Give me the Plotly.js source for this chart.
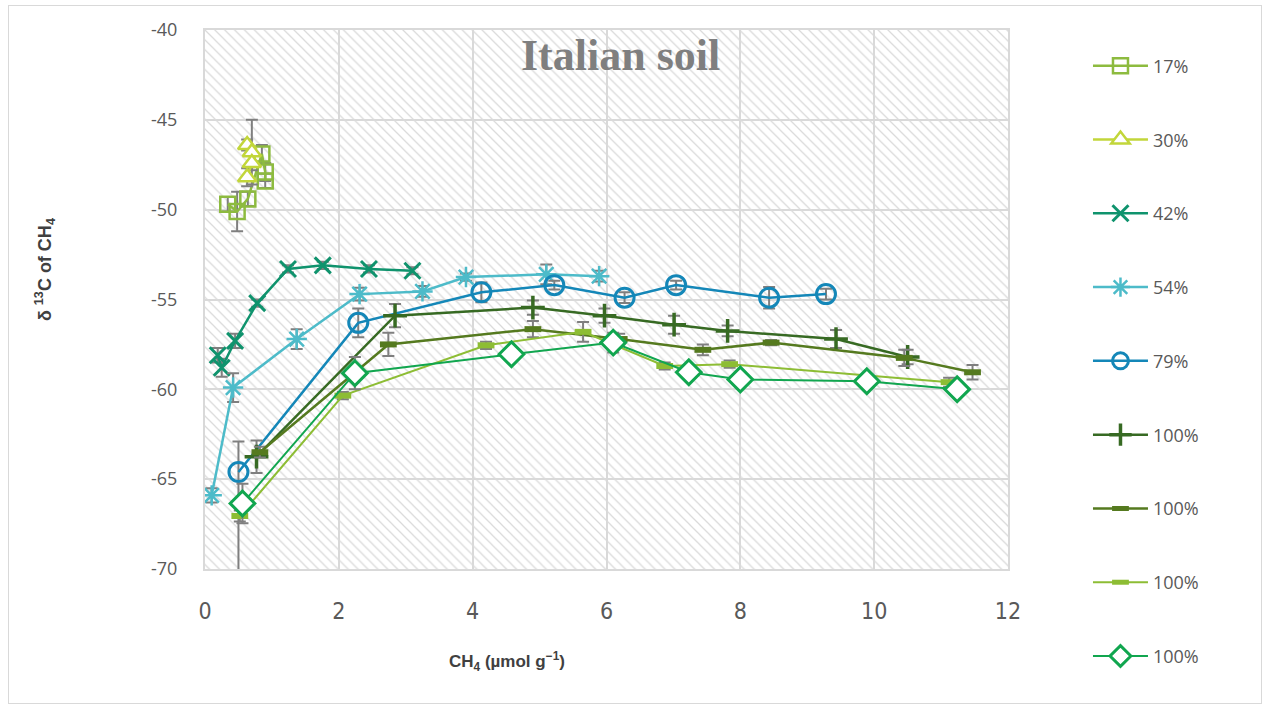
<!DOCTYPE html>
<html>
<head>
<meta charset="utf-8">
<script src="https://cdn.plot.ly/plotly-3.0.1.min.js"></script>
<style>
  html, body { margin: 0; padding: 0; background: #ffffff; }
  #frame { position: absolute; left: 8px; top: 5px; width: 1254px; height: 699px;
           border: 1px solid #d9d9d9; box-sizing: border-box; pointer-events: none; }
  #chart { position: absolute; left: 8px; top: 5px; width: 1254px; height: 699px; }
</style>
</head>
<body>
<div id="chart"></div>
<div id="frame"></div>
<script>
// Series labels (water-filled pore space) and measurements: CH4 amount vs δ13C of CH4
const seriesNames = ['17%', '30%', '42%', '54%', '79%', '100%', '100%', '100%', '100%'];

const x17 = [0.34, 0.48, 0.64, 0.85, 0.90, 0.90];
const y17 = [-49.7, -50.1, -49.4, -46.9, -47.9, -48.4];
const e17 = [0.4, 1.1, 0.4, 0.5, 0.5, 0.4];

const x30 = [0.63, 0.70, 0.70, 0.63];
const y30 = [-46.4, -46.8, -47.4, -48.2];
const e30 = [0.3, 1.8, 0.4, 0.5];

const x42 = [0.19, 0.25, 0.45, 0.78, 1.24, 1.76, 2.45, 3.10];
const y42 = [-58.1, -58.8, -57.3, -55.2, -53.3, -53.1, -53.3, -53.4];
const e42 = [0.4, 0.5, 0.4, 0.2, 0.2, 0.2, 0.2, 0.2];

const x54 = [0.10, 0.42, 1.37, 2.31, 3.25, 3.90, 5.10, 5.89];
const y54 = [-65.9, -59.9, -57.2, -54.7, -54.55, -53.75, -53.6, -53.7];
const e54 = [0.4, 0.8, 0.55, 0.35, 0.3, 0.2, 0.55, 0.3];

const x79 = [0.50, 2.29, 4.13, 5.22, 6.27, 7.04, 8.43, 9.28];
const y79 = [-64.6, -56.3, -54.6, -54.2, -54.9, -54.2, -54.9, -54.7];
const e79up = [1.7, 0.8, 0.55, 0.25, 0.3, 0.25, 0.6, 0.3];
const e79down = [6.0, 0.8, 0.55, 0.25, 0.3, 0.25, 0.6, 0.3];

const xA = [0.77, 2.84, 4.90, 5.97, 7.01, 7.81, 9.43, 10.50];
const yA = [-63.75, -55.9, -55.45, -55.9, -56.4, -56.75, -57.2, -58.2];
const eA = [0.9, 0.65, 0.4, 0.4, 0.5, 0.3, 0.5, 0.4];

const xB = [0.82, 2.74, 4.90, 6.19, 7.44, 8.46, 10.45, 11.47];
const yB = [-63.5, -57.5, -56.65, -57.2, -57.8, -57.4, -58.25, -59.05];
const eB = [0.3, 0.65, 0.45, 0.3, 0.3, 0.15, 0.45, 0.4];

const xC = [0.52, 2.06, 4.20, 5.65, 6.87, 7.84, 11.12];
const yC = [-67.05, -60.35, -57.55, -56.8, -58.7, -58.6, -59.6];
const eC = [0.3, 0.2, 0.2, 0.55, 0.2, 0.2, 0.25];

const xD = [0.56, 2.24, 4.58, 6.10, 7.23, 8.00, 9.89, 11.24];
const yD = [-66.35, -59.1, -58.05, -57.4, -59.05, -59.45, -59.55, -60.0];
const eD = [1.1, 0.9, 0.2, 0.55, 0.2, 0.2, 0.2, 0.2];

const xTicks = [0, 2, 4, 6, 8, 10, 12];
const yTicks = [-70, -65, -60, -55, -50, -45, -40];

const xRange = [0, 12];
const yRange = [-70, -40];

const errColor = '#7f7f7f';
function errBars(arr, arrMinus) {
  const e = { type: 'data', array: arr, color: errColor, thickness: 2, width: 6, visible: true };
  if (arrMinus) { e.symmetric = false; e.arrayminus = arrMinus; }
  return e;
}

// Hatched plot background (only the stripes, so gridlines stay visible)
const hatch = {
  x: [xRange[0], xRange[1], xRange[1], xRange[0], xRange[0]],
  y: [yRange[0], yRange[0], yRange[1], yRange[1], yRange[0]],
  mode: 'none', fill: 'toself', fillcolor: 'rgba(0,0,0,0)',
  fillpattern: { shape: '\\', fgcolor: '#dadada', bgcolor: 'rgba(0,0,0,0)', size: 7, solidity: 0.18 },
  showlegend: false, hoverinfo: 'skip'
};

// each series gets its own legend box so the column can span the full height
const legendIds = ['legend', 'legend2', 'legend3', 'legend4', 'legend5', 'legend6', 'legend7', 'legend8', 'legend9'];

function series(i, xs, ys, err, color, lineWidth, marker) {
  return {
    x: xs, y: ys, name: seriesNames[i], type: 'scatter', mode: 'lines+markers',
    line: { color: color, width: lineWidth },
    marker: marker,
    error_y: err,
    legend: legendIds[i]
  };
}

const traces = [
  hatch,
  series(0, x17, y17, errBars(e17), '#8dbb3f', 2.5,
    { symbol: 'square-open', size: 15, color: '#8dbb3f', line: { color: '#8dbb3f', width: 2.5 } }),
  series(1, x30, y30, errBars(e30), '#c2d63a', 2.5,
    { symbol: 'triangle-up', size: 16, color: '#ffffff', line: { color: '#c2d63a', width: 2.5 } }),
  series(2, x42, y42, errBars(e42), '#0f936d', 2.5,
    { symbol: 'x-thin', size: 16, color: '#0f936d', line: { color: '#0f936d', width: 3 } }),
  series(3, x54, y54, errBars(e54), '#4dbbc9', 2.5,
    { symbol: 'asterisk', size: 17, color: '#4dbbc9', line: { color: '#4dbbc9', width: 2.5 } }),
  series(4, x79, y79, errBars(e79up, e79down), '#1487b8', 2.5,
    { symbol: 'circle-open', size: 19, color: '#1487b8', line: { color: '#1487b8', width: 3 } }),
  series(5, xA, yA, errBars(eA), '#376a23', 2.5,
    { symbol: 'cross-thin', size: 17, color: '#376a23', line: { color: '#376a23', width: 3.5 } }),
  series(6, xB, yB, errBars(eB), '#557a1f', 2.5,
    { symbol: 'line-ew', size: 12, color: '#557a1f', line: { color: '#557a1f', width: 6 } }),
  series(7, xC, yC, errBars(eC), '#8dbd34', 2,
    { symbol: 'line-ew', size: 12, color: '#8dbd34', line: { color: '#8dbd34', width: 6 } }),
  series(8, xD, yD, errBars(eD), '#11a64f', 2,
    { symbol: 'diamond', size: 19, color: '#ffffff', line: { color: '#11a64f', width: 3 } })
];

const layout = {
  width: 1254, height: 699,
  margin: { l: 197, r: 254, t: 25, b: 135 },
  paper_bgcolor: '#ffffff', plot_bgcolor: '#ffffff',
  showlegend: true,
  xaxis: {
    range: xRange, tickvals: xTicks, ticktext: xTicks.map(String),
    showgrid: true, gridcolor: '#d9d9d9', gridwidth: 2,
    zeroline: false, showline: true, mirror: true, linecolor: '#d9d9d9', linewidth: 2,
    ticks: '', ticklabelstandoff: 20,
    tickfont: { family: 'DejaVu Sans Condensed, DejaVu Sans, sans-serif', stretch: 'condensed', size: 23, color: '#595959' }
  },
  yaxis: {
    range: yRange, tickvals: yTicks, ticktext: yTicks.map(String),
    showgrid: true, gridcolor: '#d9d9d9', gridwidth: 2,
    zeroline: false, showline: true, mirror: true, linecolor: '#d9d9d9', linewidth: 2,
    ticks: '', ticklabelstandoff: 22,
    tickfont: { family: 'Open Sans, sans-serif', size: 18, color: '#595959' }
  },
  annotations: [
    { text: '<b>Italian soil</b>', xref: 'paper', yref: 'paper', x: 0.517, y: 0.9536,
      xanchor: 'center', yanchor: 'middle', showarrow: false,
      font: { family: 'Liberation Serif, serif', size: 44, color: '#7f7f7f' } },
    { text: '<b>δ <sup>13</sup>C of CH<sub>4</sub></b>', xref: 'paper', yref: 'paper', x: -0.199, y: 0.555,
      xanchor: 'center', yanchor: 'middle', showarrow: false, textangle: -90,
      font: { family: 'Liberation Sans, sans-serif', size: 18, color: '#404040' } },
    { text: '<b>CH<sub>4</sub> (µmol g<sup>−1</sup>)</b>', xref: 'paper', yref: 'paper', x: 0.376, y: -0.1725,
      xanchor: 'center', yanchor: 'middle', showarrow: false,
      font: { family: 'Liberation Sans, sans-serif', size: 17, color: '#404040' } }
  ]
};

// legend rows: centre of each row, measured in plot-area fractions from the top
const legendRowTop = 0.0668, legendRowStep = 0.1369;
legendIds.forEach(function (id, i) {
  layout[id] = {
    x: 1.0996, xanchor: 'left',
    y: 1 - (legendRowTop + i * legendRowStep), yanchor: 'middle',
    itemwidth: 55,
    font: { family: 'Open Sans, sans-serif', size: 18, color: '#595959' },
    bgcolor: 'rgba(0,0,0,0)'
  };
});

Plotly.newPlot('chart', traces, layout, { displayModeBar: false, staticPlot: true });
</script>
</body>
</html>
